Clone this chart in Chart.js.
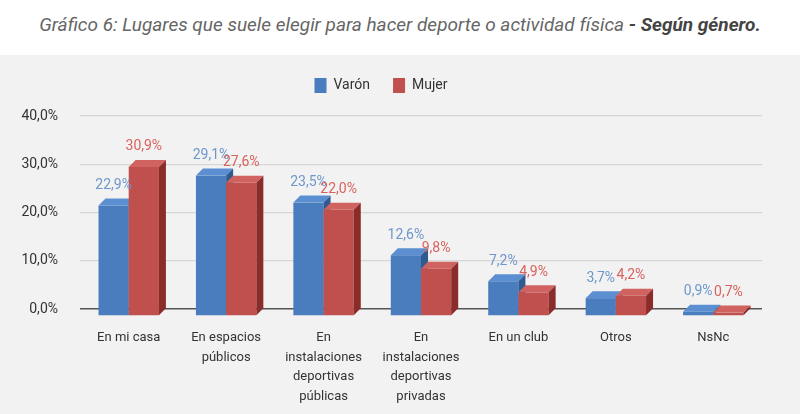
<!DOCTYPE html>
<html>
<head>
<meta charset="utf-8">
<script src="https://cdn.jsdelivr.net/npm/chart.js@4/dist/chart.umd.min.js"></script>
<style>
  body { margin: 0; background: #fff; font-family: Roboto, sans-serif; }
  #title { height: 55px; width: 800px; position: relative; overflow: hidden; }
  #title span.t { position: absolute; left: 400px; top: 13px; white-space: nowrap;
    transform: translateX(-50%); font-style: italic; font-size: 19px; color: #666; }
  #title b { color: #444; }
  #wrap { width: 800px; height: 359px; background: #f2f2f2; }
</style>
</head>
<body>
<div id="title"><span class="t">Gráfico 6: Lugares que suele elegir para hacer deporte o actividad física <b>- Según género.</b></span></div>
<div id="wrap"><canvas id="lugares" width="800" height="359"></canvas></div>
<script>
// Data
const categories = [
  'En mi casa',
  ['En espacios', 'públicos'],
  ['En', 'instalaciones', 'deportivas', 'públicas'],
  ['En', 'instalaciones', 'deportivas', 'privadas'],
  'En un club',
  'Otros',
  'NsNc'
];
const varon = [22.9, 29.1, 23.5, 12.6, 7.2, 3.7, 0.9];
const mujer = [30.9, 27.6, 22.0, 9.8, 4.9, 4.2, 0.7];

// face colours: front, top, side, label
const shades = [
  { front: '#4a7dbd', top: '#5c8fd2', side: '#2f5b90', label: '#6e97cc' },
  { front: '#c0504d', top: '#d0625f', side: '#8a2c2a', label: '#d8625e' }
];
const DX = 7, DY = 7;

function pct(v) {
  return v.toFixed(1).replace('.', ',') + '%';
}

// leave a gap under the legend
const legendGap = {
  id: 'legendGap',
  beforeInit(chart) {
    const fit = chart.legend.fit;
    chart.legend.fit = function () {
      fit.call(this);
      this.height = 61;
    };
  }
};

// draws the bars as 3D boxes instead of the flat default ones
const bars3d = {
  id: 'bars3d',
  beforeDatasetsDraw(chart) {
    const ctx = chart.ctx;
    const labels = [];
    chart.data.datasets.forEach((ds, i) => {
      const meta = chart.getDatasetMeta(i);
      const c = shades[i];
      meta.data.forEach((bar, j) => {
        const p = bar.getProps(['x', 'y', 'base', 'width'], true);
        const l = p.x - p.width / 2, r = p.x + p.width / 2;
        const top = p.y + DY, bot = p.base + DY;
        // front
        ctx.fillStyle = c.front;
        ctx.fillRect(l, top, r - l, bot - top);
        // top face
        ctx.fillStyle = c.top;
        ctx.beginPath();
        ctx.moveTo(l, top);
        ctx.lineTo(l + DX, top - DY);
        ctx.lineTo(r + DX, top - DY);
        ctx.lineTo(r, top);
        ctx.closePath();
        ctx.fill();
        // side face
        ctx.fillStyle = c.side;
        ctx.beginPath();
        ctx.moveTo(r, top);
        ctx.lineTo(r + DX, top - DY);
        ctx.lineTo(r + DX, bot - DY);
        ctx.lineTo(r, bot);
        ctx.closePath();
        ctx.fill();
        labels.push({ x: p.x, y: p.y - 13, text: pct(ds.data[j]), color: c.label });
      });
    });
    ctx.save();
    ctx.font = '14px Roboto';
    ctx.textAlign = 'center';
    ctx.textBaseline = 'middle';
    labels.forEach(lb => {
      ctx.fillStyle = lb.color;
      ctx.fillText(lb.text, lb.x, lb.y);
    });
    ctx.restore();
    return false;
  }
};

const config = {
  type: 'bar',
  data: {
    labels: categories,
    datasets: [
      { label: 'Varón', data: varon, backgroundColor: shades[0].front },
      { label: 'Mujer', data: mujer, backgroundColor: shades[1].front }
    ]
  },
  options: {
    responsive: false,
    animation: false,
    categoryPercentage: 0.62,
    barPercentage: 1,
    layout: { padding: { left: 0, right: 38, top: 0, bottom: 0 } },
    plugins: {
      legend: {
        labels: {
          boxWidth: 12,
          boxHeight: 15,
          padding: 23,
          color: '#333',
          font: { family: 'Roboto', size: 14 }
        }
      },
      tooltip: { enabled: false }
    },
    scales: {
      x: {
        grid: { display: false, drawTicks: false },
        border: { display: false },
        afterFit: s => { s.height = 105; },
        ticks: {
          color: '#333',
          padding: 19,
          maxRotation: 0,
          autoSkip: false,
          font: { family: 'Roboto', size: 13, lineHeight: 1.5 }
        }
      },
      y: {
        min: 0,
        max: 40,
        afterFit: s => { s.width = 80; },
        grid: {
          drawTicks: false,
          color: ctx => ctx.tick.value === 0 ? '#555' : '#d6d6d6',
          lineWidth: ctx => ctx.tick.value === 0 ? 1.5 : 1.2
        },
        border: { display: false },
        ticks: {
          stepSize: 10,
          padding: 22,
          color: '#333',
          font: { family: 'Roboto', size: 14 },
          callback: v => pct(v)
        }
      }
    }
  },
  plugins: [legendGap, bars3d]
};

const lugaresChart = new Chart(document.getElementById('lugares'), config);
</script>
</body>
</html>
